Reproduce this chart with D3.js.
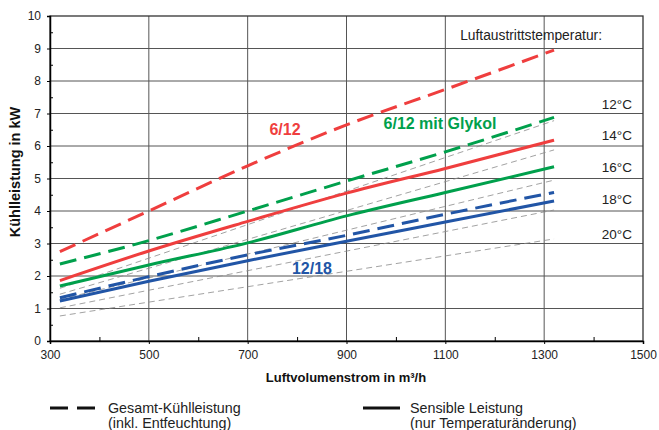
<!DOCTYPE html>
<html><head><meta charset="utf-8">
<script src="https://cdn.jsdelivr.net/npm/d3@7"></script>
<style>body{margin:0;background:#fff}text{font-family:"Liberation Sans",Arial,sans-serif}</style>
</head><body><svg id="c" width="659" height="430"></svg>
<script>
const xVals = [320, 500, 700, 900, 1100, 1320];
const red_total = [2.75, 4.0, 5.39, 6.65, 7.74, 8.95];
const green_total = [2.37, 3.09, 4.0, 4.92, 5.82, 6.88];
const red_sensible = [1.86, 2.77, 3.68, 4.55, 5.31, 6.18];
const green_sensible = [1.69, 2.34, 3.02, 3.85, 4.57, 5.36];
const blue_total = [1.33, 1.98, 2.65, 3.25, 3.90, 4.57];
const blue_sensible = [1.23, 1.84, 2.47, 3.07, 3.66, 4.31];
const tempX = [320, 1320];
const temp12 = [1.62, 6.78];
const temp14 = [1.44, 5.88];
const temp16 = [1.28, 4.95];
const temp18 = [1.02, 4.03];
const temp20 = [0.77, 3.14];
const tempLabels = ["12°C", "14°C", "16°C", "18°C", "20°C"];
const xTicks = [300, 500, 700, 900, 1100, 1300, 1500];
const yTicks = [0,1,2,3,4,5,6,7,8,9,10];

const svg = d3.select("#c");
const x = d3.scaleLinear().domain([300,1500]).range([50,643]);
const y = d3.scaleLinear().domain([0,10]).range([341,16]);

// grid
const g = svg.append("g");
g.selectAll(".hg").data(yTicks.slice(1,10)).join("line")
 .attr("x1",x(300)).attr("x2",x(1500)).attr("y1",d=>y(d)).attr("y2",d=>y(d))
 .attr("stroke","#555").attr("stroke-width",1);
g.selectAll(".vg").data(xTicks.slice(1,6)).join("line")
 .attr("y1",y(0)).attr("y2",y(10)).attr("x1",d=>x(d)).attr("x2",d=>x(d))
 .attr("stroke","#555").attr("stroke-width",1);
// frame
svg.append("rect").attr("x",x(300)).attr("y",y(10)).attr("width",x(1500)-x(300)).attr("height",y(0)-y(10))
 .attr("fill","none").attr("stroke","#333").attr("stroke-width",1.3);

// axes
const xa = svg.append("g").attr("transform",`translate(0,${y(0)})`)
 .call(d3.axisBottom(x).tickValues(xTicks).tickFormat(d3.format("d")).tickSize(3).tickPadding(6));
xa.select(".domain").attr("stroke","#000").attr("stroke-width",1.5);
xa.selectAll("text").attr("font-size",12).attr("fill","#222");
svg.append("g").attr("transform",`translate(0,${y(0)})`)
 .call(d3.axisTop(x).tickValues(d3.range(400,1500,200)).tickFormat("").tickSize(4))
 .call(a=>a.select(".domain").remove());
const ya = svg.append("g").attr("transform",`translate(${x(300)},0)`)
 .call(d3.axisLeft(y).tickValues(yTicks).tickSize(3).tickPadding(6));
ya.select(".domain").attr("stroke","#000").attr("stroke-width",1.5);
ya.selectAll("text").attr("font-size",12).attr("fill","#222");
svg.append("g").attr("transform",`translate(${x(300)},0)`)
 .call(d3.axisRight(y).tickValues(d3.range(0.5,10,1)).tickFormat("").tickSize(3))
 .call(a=>a.select(".domain").remove());

const line = d3.line().x((d)=>x(d[0])).y(d=>y(d[1])).curve(d3.curveMonotoneX);
const zip = (xs, ys) => xs.map((v,i)=>[v, ys[i]]);

// temperature lines
[temp12,temp14,temp16,temp18,temp20].forEach(t=>{
  svg.append("path").attr("d",line(zip(tempX,t))).attr("fill","none")
   .attr("stroke","#8a8a8a").attr("stroke-width",0.8).attr("stroke-dasharray","6,4");
});

const RED="#ef3e3e", GREEN="#00a04c", BLUE="#2155a6";
const series = [
 [red_total, RED, true],[green_total, GREEN, true],[blue_total, BLUE, true],
 [red_sensible, RED, false],[green_sensible, GREEN, false],[blue_sensible, BLUE, false]
];
series.forEach(([ys,c,dashed])=>{
  svg.append("path").attr("d",line(zip(xVals,ys))).attr("fill","none")
   .attr("stroke",c).attr("stroke-width",3).attr("stroke-dasharray",dashed?"17,8":null);
});

// labels
svg.append("text").attr("x",285).attr("y",135).attr("text-anchor","middle").attr("font-size",16)
 .attr("font-weight","bold").attr("fill",RED).text("6/12");
svg.append("text").attr("x",440).attr("y",129).attr("text-anchor","middle").attr("font-size",16)
 .attr("font-weight","bold").attr("fill",GREEN).text("6/12 mit Glykol");
svg.append("text").attr("x",312).attr("y",274).attr("text-anchor","middle").attr("font-size",16)
 .attr("font-weight","bold").attr("fill",BLUE).text("12/18");

svg.append("text").attr("x",602).attr("y",40).attr("text-anchor","end").attr("font-size",13.8)
 .attr("fill","#222").text("Luftaustrittstemperatur:");
const labY = [104, 135, 167, 199, 234];
tempLabels.forEach((t,i)=>{
  svg.append("text").attr("x",632).attr("y",labY[i]+5).attr("text-anchor","end").attr("font-size",13.5)
   .attr("fill","#222").text(t);
});

// axis titles
svg.append("text").attr("x",346).attr("y",382).attr("text-anchor","middle").attr("font-size",13)
 .attr("font-weight","bold").attr("fill","#111").text("Luftvolumenstrom in m³/h");
svg.append("text").attr("transform","translate(20,172) rotate(-90)").attr("text-anchor","middle")
 .attr("font-size",14.5).attr("font-weight","bold").attr("fill","#111").text("Kühlleistung in kW");

// legend
svg.append("line").attr("x1",50).attr("x2",97).attr("y1",408).attr("y2",408)
 .attr("stroke","#111").attr("stroke-width",3).attr("stroke-dasharray","18,9");
svg.append("text").attr("x",108).attr("y",413).attr("font-size",14.3).attr("fill","#222").text("Gesamt-Kühlleistung");
svg.append("text").attr("x",108).attr("y",428).attr("font-size",14.3).attr("fill","#222").text("(inkl. Entfeuchtung)");
svg.append("line").attr("x1",363).attr("x2",400).attr("y1",408).attr("y2",408)
 .attr("stroke","#111").attr("stroke-width",3);
svg.append("text").attr("x",410).attr("y",413).attr("font-size",14.3).attr("fill","#222").text("Sensible Leistung");
svg.append("text").attr("x",410).attr("y",428).attr("font-size",14.3).attr("fill","#222").text("(nur Temperaturänderung)");
</script></body></html>
